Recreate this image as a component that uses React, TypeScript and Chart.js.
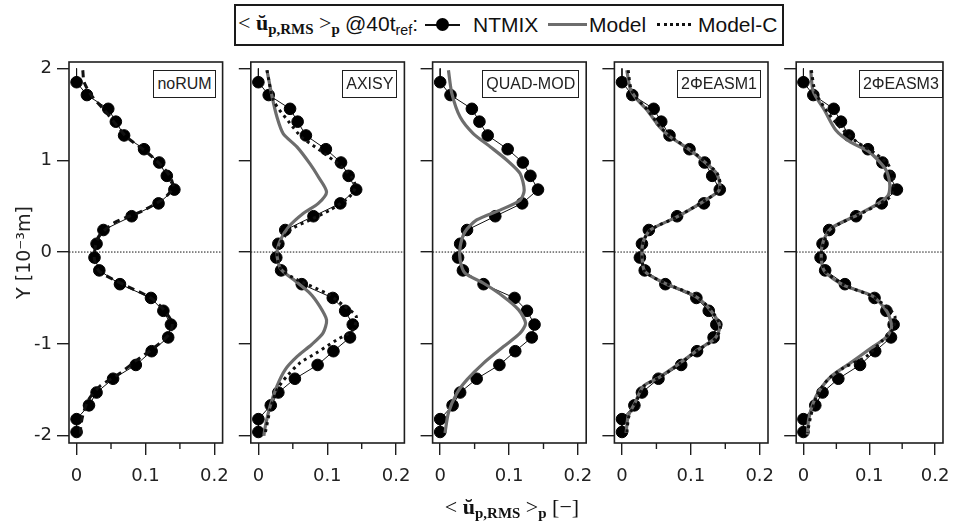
import React, { useEffect, useRef } from "react";
import { Chart, registerables } from "chart.js";

Chart.register(...registerables);

// ---------------- data ----------------
const panelNames = ["noRUM", "AXISY", "QUAD-MOD", "2ΦEASM1", "2ΦEASM3"];

const xTicks = [0, 0.1, 0.2];
const xMinorTicks = [0.05, 0.15];
const yTicks = [-2, -1, 0, 1, 2];

// NTMIX reference (DNS) – identical in every panel; first entry has no marker
const ntmixY = [2.0, 1.85, 1.71, 1.56, 1.42, 1.27, 1.12, 0.975, 0.83, 0.68, 0.53, 0.39, 0.24, 0.09, -0.06, -0.2, -0.35, -0.5, -0.64, -0.79, -0.93, -1.08, -1.23, -1.38, -1.53, -1.67, -1.82, -1.96];
const ntmixX = [0.0, 0.0, 0.015, 0.046, 0.057, 0.069, 0.098, 0.12, 0.131, 0.142, 0.119, 0.08, 0.039, 0.029, 0.026, 0.033, 0.063, 0.108, 0.126, 0.137, 0.133, 0.109, 0.086, 0.053, 0.029, 0.018, 0.0, 0.0];

// noRUM (single black dashed model curve)
const noRumCY = [1.98, 1.85, 1.7, 1.55, 1.4, 1.25, 1.1, 0.95, 0.82, 0.7, 0.58, 0.45, 0.32, 0.18, 0.05, -0.08, -0.21, -0.35, -0.5, -0.64, -0.78, -0.9, -1.04, -1.18, -1.32, -1.46, -1.6, -1.75, -1.9, -1.98];
const noRumCX = [0.009, 0.011, 0.022, 0.04, 0.056, 0.073, 0.1, 0.122, 0.136, 0.14, 0.126, 0.096, 0.055, 0.033, 0.027, 0.026, 0.033, 0.067, 0.108, 0.128, 0.139, 0.134, 0.113, 0.087, 0.063, 0.034, 0.018, 0.01, 0.006, 0.006];

// AXISY
const axisyModelY = [1.98, 1.69, 1.47, 1.29, 1.145, 0.96, 0.82, 0.655, 0.53, 0.42, 0.275, 0.13, -0.015, -0.18, -0.3, -0.45, -0.59, -0.74, -0.88, -1.01, -1.14, -1.28, -1.46, -1.68, -1.9, -2.0];
const axisyModelX = [0.0125, 0.02, 0.027, 0.036, 0.056, 0.075, 0.087, 0.099, 0.087, 0.065, 0.044, 0.032, 0.027, 0.032, 0.051, 0.075, 0.089, 0.099, 0.094, 0.077, 0.056, 0.039, 0.027, 0.017, 0.01, 0.008];
const axisyCY = [1.98, 1.65, 1.42, 1.25, 1.11, 0.945, 0.82, 0.71, 0.6, 0.457, 0.35, 0.24, 0.095, -0.05, -0.196, -0.3, -0.45, -0.59, -0.7, -0.85, -0.96, -1.1, -1.21, -1.355, -1.5, -1.72, -1.97];
const axisyCX = [0.0125, 0.022, 0.044, 0.063, 0.089, 0.118, 0.135, 0.141, 0.132, 0.104, 0.075, 0.046, 0.032, 0.027, 0.034, 0.056, 0.099, 0.125, 0.142, 0.137, 0.113, 0.084, 0.06, 0.041, 0.027, 0.017, 0.01];

// QUAD-MOD
const quadModelY = [1.98, 1.725, 1.47, 1.29, 1.145, 1.0, 0.855, 0.674, 0.565, 0.457, 0.35, 0.22, 0.058, -0.087, -0.23, -0.34, -0.486, -0.63, -0.775, -0.884, -1.03, -1.21, -1.39, -1.54, -1.75, -1.97];
const quadModelX = [0.012, 0.017, 0.029, 0.048, 0.073, 0.097, 0.116, 0.122, 0.116, 0.087, 0.053, 0.036, 0.029, 0.029, 0.036, 0.063, 0.092, 0.114, 0.124, 0.116, 0.092, 0.063, 0.039, 0.024, 0.012, 0.007];

// 2ΦEASM1
const easm1ModelY = [1.98, 1.78, 1.67, 1.55, 1.36, 1.255, 1.11, 0.98, 0.86, 0.73, 0.66, 0.55, 0.38, 0.24, 0.115, -0.03, -0.21, -0.34, -0.48, -0.63, -0.81, -0.94, -1.06, -1.21, -1.37, -1.46, -1.64, -1.79, -1.97];
const easm1ModelX = [0.007, 0.012, 0.021, 0.036, 0.055, 0.07, 0.099, 0.12, 0.137, 0.142, 0.14, 0.118, 0.079, 0.041, 0.031, 0.029, 0.033, 0.062, 0.106, 0.128, 0.142, 0.135, 0.111, 0.084, 0.053, 0.031, 0.019, 0.009, 0.006];
const easm1CY = [1.98, 1.78, 1.67, 1.55, 1.36, 1.255, 1.11, 0.98, 0.86, 0.73, 0.66, 0.55, 0.38, 0.24, 0.115, -0.03, -0.21, -0.34, -0.48, -0.63, -0.81, -0.94, -1.06, -1.21, -1.37, -1.46, -1.64, -1.79, -1.97];
const easm1CX = [0.009, 0.013, 0.022, 0.037, 0.056, 0.071, 0.1, 0.121, 0.138, 0.143, 0.14, 0.118, 0.079, 0.041, 0.031, 0.029, 0.033, 0.063, 0.107, 0.129, 0.143, 0.136, 0.112, 0.085, 0.054, 0.032, 0.02, 0.01, 0.007];

// 2ΦEASM3
const easm3ModelY = [1.98, 1.745, 1.545, 1.33, 1.2, 1.09, 0.91, 0.75, 0.62, 0.53, 0.4, 0.26, 0.115, -0.05, -0.21, -0.36, -0.48, -0.65, -0.81, -0.92, -1.06, -1.21, -1.355, -1.5, -1.64, -1.82, -1.99];
const easm3ModelX = [0.011, 0.015, 0.032, 0.049, 0.071, 0.1, 0.124, 0.131, 0.129, 0.114, 0.081, 0.042, 0.03, 0.027, 0.032, 0.061, 0.105, 0.127, 0.134, 0.127, 0.1, 0.071, 0.042, 0.025, 0.015, 0.008, 0.006];
const easm3CY = [1.98, 1.745, 1.52, 1.35, 1.2, 1.07, 0.95, 0.79, 0.62, 0.53, 0.4, 0.26, 0.115, -0.05, -0.21, -0.36, -0.48, -0.62, -0.7, -0.84, -0.97, -1.14, -1.26, -1.39, -1.57, -1.79, -1.97];
const easm3CX = [0.012, 0.018, 0.037, 0.057, 0.081, 0.11, 0.129, 0.136, 0.134, 0.117, 0.082, 0.043, 0.031, 0.027, 0.033, 0.062, 0.104, 0.13, 0.139, 0.136, 0.119, 0.095, 0.061, 0.037, 0.02, 0.011, 0.006];

const modelYs: (number[] | null)[] = [null, axisyModelY, quadModelY, easm1ModelY, easm3ModelY];
const modelXs: (number[] | null)[] = [null, axisyModelX, quadModelX, easm1ModelX, easm3ModelX];
const modelCYs: (number[] | null)[] = [noRumCY, axisyCY, null, easm1CY, easm3CY];
const modelCXs: (number[] | null)[] = [noRumCX, axisyCX, null, easm1CX, easm3CX];

// ---------------- layout ----------------
const PAGE_W = 961;
const PAGE_H = 526;
const BOX_LEFT0 = 69;
const BOX_PITCH = 181.8;
const BOX_W = 153.6;
const BOX_TOP = 62;
const BOX_BOTTOM = 443;
const X_AXIS_H = 46;
const X_MIN = -0.011;
const X_MAX = 0.212;
const Y_MIN = -2.08;
const Y_MAX = 2.07;

const TICK_FONT = '"DejaVu Sans", sans-serif';
const LABEL_FONT = '"Liberation Sans", Arial, sans-serif';
const SERIF = '"Liberation Serif", "DejaVu Serif", serif';

const toPts = (xs: number[], ys: number[]) => ys.map((y, i) => ({ x: xs[i], y }));

const framePlugin = {
  id: "frame",
  beforeDatasetsDraw(chart: any) {
    const { ctx, chartArea, scales } = chart;
    const y0 = scales.y.getPixelForValue(0);
    ctx.save();
    ctx.strokeStyle = "#111";
    ctx.lineWidth = 1;
    ctx.setLineDash([1.5, 1.5]);
    ctx.beginPath();
    ctx.moveTo(chartArea.left, y0);
    ctx.lineTo(chartArea.right, y0);
    ctx.stroke();
    ctx.restore();
  },
  afterDraw(chart: any) {
    const { ctx, chartArea, scales } = chart;
    ctx.save();
    ctx.strokeStyle = "#1e1e1e";
    ctx.lineWidth = 1.6;
    ctx.strokeRect(chartArea.left, chartArea.top, chartArea.right - chartArea.left, chartArea.bottom - chartArea.top);
    ctx.lineWidth = 1.4;
    xMinorTicks.forEach((v) => {
      const px = scales.x.getPixelForValue(v);
      ctx.beginPath();
      ctx.moveTo(px, chartArea.bottom);
      ctx.lineTo(px, chartArea.bottom + 6);
      ctx.stroke();
    });
    ctx.restore();
  },
};

function Panel({ index }: { index: number }) {
  const ref = useRef<HTMLCanvasElement>(null);
  useEffect(() => {
    const boxLeft = BOX_LEFT0 + index * BOX_PITCH;
    const boxRight = boxLeft + BOX_W;
    const yW = index === 0 ? 69 : 14;
    const datasets: any[] = [];
    datasets.push({
      label: "NTMIX",
      data: toPts(ntmixX, ntmixY),
      showLine: true,
      borderColor: "#111",
      borderWidth: 1,
      backgroundColor: "#000",
      pointBackgroundColor: "#000",
      pointBorderColor: "#000",
      pointBorderWidth: 1,
      pointRadius: (c: any) => (c.dataIndex === 0 ? 0 : 5.8),
      tension: 0,
      order: 3,
    });
    const my = modelYs[index];
    const mx = modelXs[index];
    if (my && mx) {
      datasets.push({
        label: "Model",
        data: toPts(mx, my),
        showLine: true,
        borderColor: "#6d6d6d",
        borderWidth: 3.2,
        pointRadius: 0,
        tension: 0.25,
        order: 2,
      });
    }
    const cy = modelCYs[index];
    const cx = modelCXs[index];
    if (cy && cx) {
      datasets.push({
        label: "Model-C",
        data: toPts(cx, cy),
        showLine: true,
        borderColor: "#111",
        borderWidth: 3,
        borderDash: index === 0 ? [7, 5] : [3, 4],
        pointRadius: 0,
        tension: 0.25,
        order: 1,
      });
    }
    const chart = new Chart(ref.current as HTMLCanvasElement, {
      type: "scatter",
      data: { datasets },
      options: {
        responsive: false,
        animation: false,
        devicePixelRatio: 1,
        layout: {
          padding: {
            left: boxLeft - yW,
            right: PAGE_W - boxRight,
            top: BOX_TOP,
            bottom: PAGE_H - BOX_BOTTOM - X_AXIS_H,
          },
        },
        plugins: { legend: { display: false }, tooltip: { enabled: false }, title: { display: false } },
        scales: {
          x: {
            type: "linear",
            min: X_MIN,
            max: X_MAX,
            afterBuildTicks: (s: any) => {
              s.ticks = xTicks.map((v) => ({ value: v }));
            },
            afterFit: (s: any) => {
              s.height = X_AXIS_H;
            },
            ticks: {
              callback: (v: any) => String(v),
              font: { family: TICK_FONT, size: 18 },
              color: "#222",
              padding: 11,
              maxRotation: 0,
              autoSkip: false,
            },
            grid: { drawOnChartArea: false, drawTicks: true, tickLength: 12, color: "#1e1e1e", lineWidth: 1.4 },
            border: { display: false },
          },
          y: {
            type: "linear",
            min: Y_MIN,
            max: Y_MAX,
            afterBuildTicks: (s: any) => {
              s.ticks = yTicks.map((v) => ({ value: v }));
            },
            afterFit: (s: any) => {
              s.width = yW;
            },
            ticks: {
              callback: (v: any) => (index === 0 ? String(v) : ""),
              font: { family: TICK_FONT, size: 18 },
              color: "#222",
              padding: 5,
              autoSkip: false,
            },
            title: {
              display: index === 0,
              text: "Y [10⁻³m]",
              font: { family: TICK_FONT, size: 19 },
              color: "#222",
              padding: { top: 14, bottom: 0 },
            },
            grid: { drawOnChartArea: false, drawTicks: true, tickLength: 12, color: "#1e1e1e", lineWidth: 1.4 },
            border: { display: false },
          },
        },
      },
      plugins: [framePlugin],
    } as any);
    return () => chart.destroy();
  }, [index]);
  return (
    <canvas
      ref={ref}
      width={PAGE_W}
      height={PAGE_H}
      style={{ position: "absolute", left: 0, top: 0, width: PAGE_W, height: PAGE_H, pointerEvents: "none" }}
    />
  );
}

function PanelLabel({ index }: { index: number }) {
  const boxRight = BOX_LEFT0 + index * BOX_PITCH + BOX_W;
  return (
    <div
      style={{
        position: "absolute",
        right: PAGE_W - (boxRight - 7),
        top: 70,
        height: 28,
        boxSizing: "border-box",
        border: "1.6px solid #1e1e1e",
        background: "#fff",
        padding: "0 3px",
        fontFamily: LABEL_FONT,
        fontSize: 16,
        lineHeight: "25px",
        color: "#222",
        whiteSpace: "nowrap",
      }}
    >
      {panelNames[index]}
    </div>
  );
}

const sub = (t: string, bold = true) => (
  <span style={{ fontSize: "0.68em", position: "relative", top: "0.3em", fontWeight: bold ? "bold" : "normal" }}>{t}</span>
);

export default function App() {
  return (
    <div style={{ position: "fixed", left: 0, top: 0, width: PAGE_W, height: PAGE_H, background: "#fff", overflow: "hidden" }}>
      {panelNames.map((_, i) => (
        <Panel key={"p" + i} index={i} />
      ))}
      {panelNames.map((_, i) => (
        <PanelLabel key={"l" + i} index={i} />
      ))}

      {/* legend */}
      <div
        style={{
          position: "absolute",
          left: 234,
          top: 4,
          width: 550,
          height: 42,
          boxSizing: "border-box",
          border: "2px solid #1a1a1a",
          background: "#fff",
        }}
      />
      <div style={{ position: "absolute", left: 238, top: 11, fontFamily: SERIF, fontSize: 22, lineHeight: "24px", whiteSpace: "nowrap", color: "#111" }}>
        {"< "}
        <b>ŭ</b>
        {sub("p,RMS")}
        {" >"}
        {sub("p")}
      </div>
      <div style={{ position: "absolute", left: 345, top: 12, fontFamily: LABEL_FONT, fontSize: 21, lineHeight: "24px", whiteSpace: "nowrap", color: "#111" }}>
        @40t{sub("ref", false)}:
      </div>
      <div style={{ position: "absolute", left: 425, top: 24, width: 35, height: 1.6, background: "#111" }} />
      <div style={{ position: "absolute", left: 436, top: 18, width: 13, height: 13, borderRadius: "50%", background: "#000" }} />
      <div style={{ position: "absolute", left: 473, top: 13, fontFamily: LABEL_FONT, fontSize: 21, lineHeight: "24px", color: "#111" }}>NTMIX</div>
      <div style={{ position: "absolute", left: 548, top: 23, width: 39, height: 3, background: "#6d6d6d" }} />
      <div style={{ position: "absolute", left: 589, top: 13, fontFamily: LABEL_FONT, fontSize: 21, lineHeight: "24px", color: "#111" }}>Model</div>
      <div style={{ position: "absolute", left: 657, top: 23, width: 34, height: 0, borderTop: "3px dotted #111" }} />
      <div style={{ position: "absolute", left: 698, top: 13, fontFamily: LABEL_FONT, fontSize: 21, lineHeight: "24px", color: "#111", whiteSpace: "nowrap" }}>Model-C</div>

      {/* x-axis title */}
      <div
        style={{
          position: "absolute",
          left: 312,
          width: 400,
          top: 494,
          textAlign: "center",
          fontFamily: SERIF,
          fontSize: 22,
          lineHeight: "26px",
          whiteSpace: "nowrap",
          color: "#111",
        }}
      >
        {"< "}
        <b>ŭ</b>
        {sub("p,RMS")}
        {" >"}
        {sub("p")}
        {" [−]"}
      </div>
    </div>
  );
}
